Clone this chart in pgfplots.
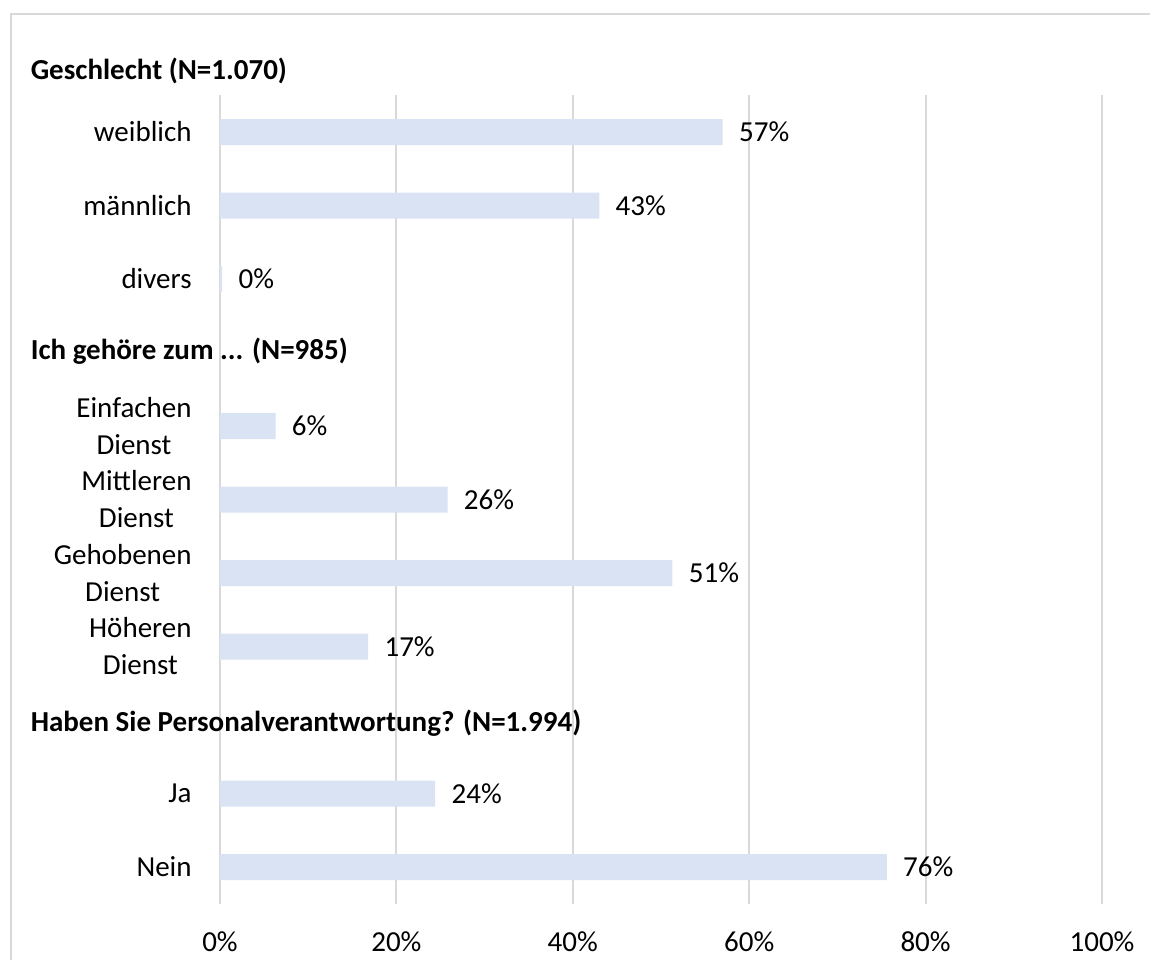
\documentclass[border=0pt]{standalone}
\usepackage{pgfplots}
\pgfplotsset{compat=1.18}
\usepackage{fontspec}
\setmainfont{Carlito}
\definecolor{barblue}{HTML}{DAE3F3}
\definecolor{gridgray}{HTML}{D9D9D9}
\newcommand{\fs}{\fontsize{14.5}{18.5}\selectfont}
\begin{document}
\begin{tikzpicture}
\path[use as bounding box] (0,0) rectangle (575pt,480pt);
\draw[gridgray, line width=1pt] (5.5pt,0pt) -- (5.5pt,473pt) -- (575pt,473pt);
\begin{axis}[
  at={(110pt,28.125pt)}, anchor=south west,
  scale only axis, width=441pt, height=404.25pt,
  xmin=0, xmax=100, ymin=0.5, ymax=11.5, y dir=reverse,
  clip=false,
  axis line style={draw=none},
  xtick={0,20,40,60,80,100},
  xticklabels={0\%,20\%,40\%,60\%,80\%,100\%},
  xmajorgrids, grid style={gridgray, line width=1pt},
  major tick length=0pt,
  xticklabel style={font=\fs, inner sep=0pt, anchor=north, yshift=-14pt},
  ytick={1,2,3,5,6,7,8,10,11},
  yticklabels={weiblich, männlich, divers, {Einfachen\\Dienst}, {Mittleren\\Dienst}, {Gehobenen\\Dienst}, {Höheren\\Dienst}, Ja, Nein},
  yticklabel style={font=\fs, align=center, inner sep=0pt, anchor=east, xshift=-14pt},
  xbar, bar width=13pt,
  point meta=explicit symbolic,
  nodes near coords,
  nodes near coords style={font=\fs, inner sep=0pt, anchor=west, xshift=8pt},
]
\addplot[fill=barblue, draw=none] coordinates {
  (57,1) [57\%]
  (43,2) [43\%]
  (0.25,3) [0\%]
  (6.3,5) [6\%]
  (25.8,6) [26\%]
  (51.3,7) [51\%]
  (16.8,8) [17\%]
  (24.4,10) [24\%]
  (75.6,11) [76\%]
};
\node[font=\fs\bfseries, anchor=west, inner sep=0pt] at (axis cs:-21.5,0.17) {Geschlecht (N=1.070)};
\node[font=\fs\bfseries, anchor=west, inner sep=0pt] at (axis cs:-21.5,3.98) {Ich gehöre zum ... (N=985)};
\node[font=\fs\bfseries, anchor=west, inner sep=0pt] at (axis cs:-21.5,9.05) {Haben Sie Personalverantwortung? (N=1.994)};
\end{axis}
\end{tikzpicture}
\end{document}
